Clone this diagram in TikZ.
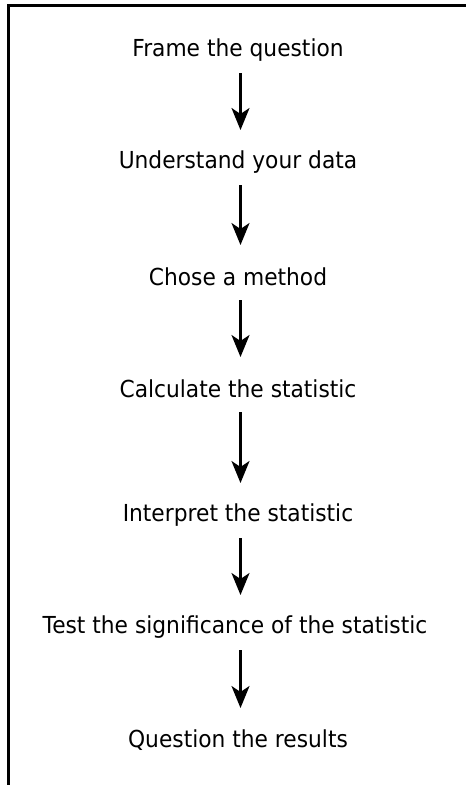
\documentclass[tikz,border=0pt]{standalone}
\usepackage{fontspec}
\setmainfont{DejaVu Sans}[FakeStretch=0.93]
\usetikzlibrary{arrows.meta}
\begin{document}
\begin{tikzpicture}[x=1pt,y=-1pt,
  stage/.style={font=\fontsize{23.4}{26}\selectfont, inner sep=0pt, anchor=center},
  flow/.style={line width=2.5pt, -{Stealth[length=22pt,width=18pt,inset=6pt]}},
  frameline/.style={line width=3pt}]
  \useasboundingbox (0,0) rectangle (466,785);
  % open frame: top and left edges only
  \coordinate (tl) at (8.5,5.5);
  \coordinate (tr) at (466,5.5);
  \coordinate (bl) at (8.5,785);
  \draw[frameline] (tr) -- (tl) -- (bl);
  % steps
  \node[stage] (s1) at (238,50)  {Frame the question};
  \node[stage] (s2) at (238,162) {Understand your data};
  \node[stage] (s3) at (238,277) {Chose a method};
  \node[stage] (s4) at (238,389) {Calculate the statistic};
  \node[stage] (s5) at (238,515) {Interpret the statistic};
  \node[stage] (s6) at (235,627) {Test the significance of the statistic};
  \node[stage] (s7) at (238,740) {Question the results};
  % connectors
  \foreach \a/\b in {s1/s2,s2/s3,s3/s4,s4/s5,s5/s6,s6/s7}{
    \draw[flow] ([yshift=-23pt]\a.center -| 240.5,0) -- ([yshift=32pt]\b.center -| 240.5,0);
  }
\end{tikzpicture}
\end{document}
